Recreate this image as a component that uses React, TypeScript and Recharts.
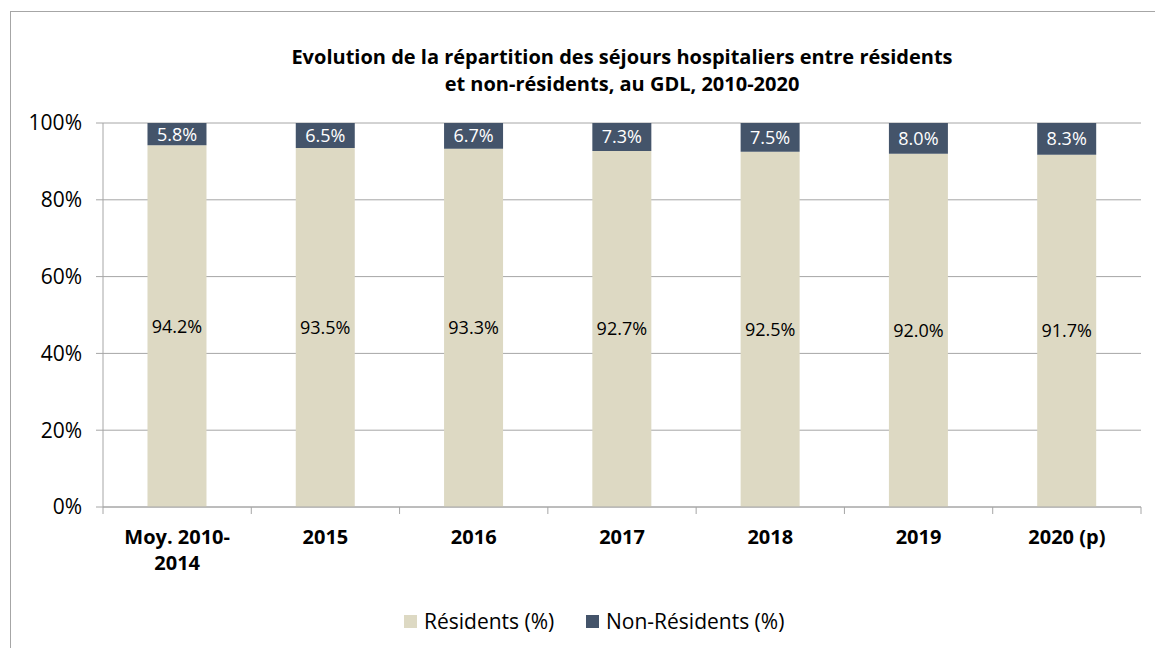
import React from 'react';
import { BarChart, Bar, XAxis, YAxis, CartesianGrid, LabelList } from 'recharts';

const categories = ['Moy. 2010-2014', '2015', '2016', '2017', '2018', '2019', '2020 (p)'];
const residents = [94.2, 93.5, 93.3, 92.7, 92.5, 92.0, 91.7];
const nonResidents = [5.8, 6.5, 6.7, 7.3, 7.5, 8.0, 8.3];
const yTicks = [0, 20, 40, 60, 80, 100];
const tickLines: Record<string, string[]> = { 'Moy. 2010-2014': ['Moy. 2010-', '2014'] };

const data = categories.map((c, i) => ({ cat: c, res: residents[i], non: nonResidents[i] }));

const FONT = '"Open Sans", "Noto Sans", sans-serif';
const GRID = '#a6a6a6';
const RES = '#ddd9c3';
const NON = '#44546a';

const W = 1155;
const H = 648;
const M = { top: 123, right: 14, left: 0, bottom: 81 };
const YW = 103;
const XH = 60;
const band = (W - M.left - M.right - YW) / categories.length;

const XTick = (props: any) => {
  const { x, y, payload, index } = props;
  const lines = tickLines[payload.value] || [payload.value];
  return (
    <g>
      <line x1={x - band / 2} x2={x - band / 2} y1={y - 8} y2={y - 1} stroke={GRID} />
      {index === categories.length - 1 && (
        <line x1={x + band / 2} x2={x + band / 2} y1={y - 8} y2={y - 1} stroke={GRID} />
      )}
      {lines.map((l: string, i: number) => (
        <text key={i} x={x} y={y + 29 + i * 26} textAnchor="middle" fontFamily={FONT} fontWeight="bold" fontSize={20} fill="#000">
          {l}
        </text>
      ))}
    </g>
  );
};

const legendItem = (left: number, color: string, label: string) => (
  <div style={{ position: 'absolute', left, top: 607, display: 'flex', alignItems: 'center', whiteSpace: 'nowrap', fontSize: 21, color: '#000' }}>
    <span style={{ width: 13, height: 13, background: color, display: 'inline-block', marginRight: 7 }} />
    {label}
  </div>
);

export default function App() {
  return (
    <div style={{ position: 'absolute', left: 0, top: 0, width: W, height: H, background: '#fff', fontFamily: FONT, overflow: 'hidden' }}>
      <div style={{ position: 'absolute', left: 10, top: 11, width: W, height: H, borderTop: `1px solid ${GRID}`, borderLeft: `1px solid ${GRID}` }} />
      <div style={{ position: 'absolute', left: 83, top: 43, width: 1078, textAlign: 'center', fontWeight: 'bold', fontSize: 20, lineHeight: '27px', color: '#000' }}>
        Evolution de la répartition des séjours hospitaliers entre résidents
        <br />
        et non-résidents, au GDL, 2010-2020
      </div>
      <div style={{ position: 'absolute', left: 0, top: 0 }}>
        <BarChart width={W} height={H} data={data} margin={M} barCategoryGap="30%">
          <CartesianGrid horizontal vertical={false} stroke={GRID} />
          <XAxis dataKey="cat" height={XH} axisLine={{ stroke: GRID }} tickLine={false} tick={<XTick />} interval={0} />
          <YAxis
            width={YW}
            domain={[0, 100]}
            ticks={yTicks}
            tickFormatter={(v: number) => `${v}%`}
            axisLine={{ stroke: GRID }}
            tickLine={{ stroke: GRID }}
            tickSize={7}
            tickMargin={14}
            tick={{ fill: '#000', fontSize: 21, fontFamily: FONT }}
          />
          <Bar dataKey="res" stackId="a" fill={RES} isAnimationActive={false}>
            <LabelList dataKey="res" position="center" formatter={(v: number) => `${v.toFixed(1)}%`} fill="#000" fontSize={18} fontFamily={FONT} />
          </Bar>
          <Bar dataKey="non" stackId="a" fill={NON} isAnimationActive={false}>
            <LabelList dataKey="non" position="center" formatter={(v: number) => `${v.toFixed(1)}%`} fill="#fff" fontSize={18} fontFamily={FONT} />
          </Bar>
        </BarChart>
      </div>
      {legendItem(404, RES, 'Résidents (%)')}
      {legendItem(586, NON, 'Non-Résidents (%)')}
    </div>
  );
}
